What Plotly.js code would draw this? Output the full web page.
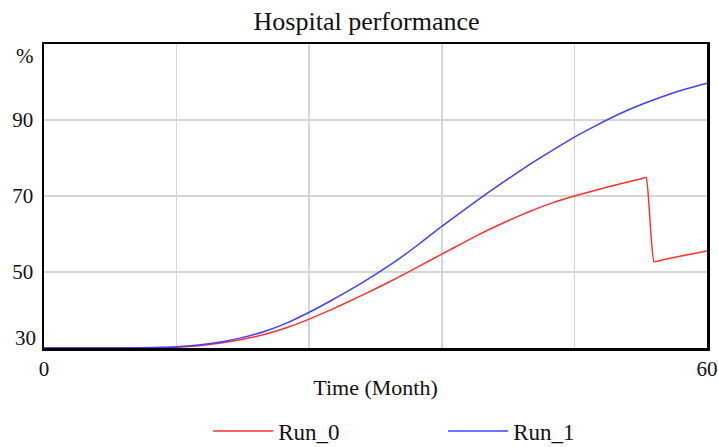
<!DOCTYPE html>
<html>
<head>
<meta charset="utf-8">
<script src="https://cdn.plot.ly/plotly-3.0.1.min.js"></script>
<style>html,body{margin:0;padding:0;background:#fff;}</style>
</head>
<body>
<div id="chart" style="width:718px;height:447px;"></div>
<script>
const timeRun1 = [0,2,4,6,8,10,12,14,16,18,20,22,24,26,28,30,32,34,36,38,40,42,44,46,48,50,52,54,56,58,60];
const run1 = [30,30,30,30,30.05,30.1,30.3,30.8,31.6,32.8,34.4,36.6,39.4,42.5,45.8,49.4,53.2,57.5,62,66.3,70.5,74.5,78.4,82,85.5,88.6,91.5,94,96.2,98.1,99.7];
const timeRun0 = [0,2,4,6,8,10,12,14,16,18,20,22,24,26,28,30,32,34,36,38,40,42,44,46,48,50,52,54,54.5,55.2,56,58,60];
const run0 = [30,30,30,30,30.03,30.08,30.2,30.6,31.3,32.3,33.6,35.4,37.6,40.1,42.8,45.6,48.5,51.6,54.7,57.8,60.8,63.5,66,68.2,70,71.6,73.1,74.5,74.9,52.7,53.2,54.4,55.5];
const xTickVals = [0,12,24,36,48,60];
const xTickText = ['0','','','','','60'];
const yTickVals = [50,70,90];
const yTickText = ['50','70','90'];

const font = '"Liberation Serif", "Times New Roman", serif';
const ink = '#111';
const data = [
  {x: timeRun0, y: run0, name: 'Run_0', mode: 'lines', line: {color: '#ff3030', width: 1.5, shape: 'spline', smoothing: 0.35}},
  {x: timeRun1, y: run1, name: 'Run_1', mode: 'lines', line: {color: '#4040ff', width: 1.5, shape: 'spline', smoothing: 0.8}}
];
const layout = {
  width: 718, height: 447,
  margin: {l: 44, r: 11, t: 44, b: 99, autoexpand: false},
  paper_bgcolor: '#fff', plot_bgcolor: '#fff',
  font: {family: font, size: 21, color: ink},
  title: {text: 'Hospital performance', x: 0.5105, xanchor: 'center', y: 0.953, yanchor: 'middle', font: {family: font, size: 26, color: ink}},
  xaxis: {
    range: [0, 60], tickvals: xTickVals, ticktext: xTickText,
    showgrid: true, gridcolor: '#d6d6d6', gridwidth: 1.5,
    showline: true, linecolor: '#000', linewidth: 2.5, mirror: true,
    ticks: '', zeroline: false, ticklabelstandoff: 0,
    tickfont: {family: font, size: 21, color: ink},
    title: {text: 'Time (Month)', standoff: 0, font: {family: font, size: 22, color: ink}}
  },
  yaxis: {
    range: [30, 110], tickvals: yTickVals, ticktext: yTickText,
    showgrid: true, gridcolor: '#d6d6d6', gridwidth: 1.5,
    showline: true, linecolor: '#000', linewidth: 2.5, mirror: true,
    ticks: '', zeroline: false, ticklabelstandoff: 4,
    tickfont: {family: font, size: 21, color: ink}
  },
  annotations: [
    {text: '%', xref: 'paper', yref: 'paper', x: 0, y: 1, xanchor: 'right', yanchor: 'top', xshift: -8, yshift: 2, showarrow: false, font: {family: font, size: 21, color: ink}},
    {text: '30', xref: 'paper', yref: 'y', x: 0, y: 30, xanchor: 'right', yanchor: 'bottom', xshift: -6, yshift: -4, showarrow: false, font: {family: font, size: 21, color: ink}}
  ],
  legend: {
    orientation: 'h', x: 0.602, xanchor: 'center', y: -0.273, yanchor: 'middle',
    font: {family: font, size: 23, color: ink},
    itemwidth: 60,
    entrywidth: 160, entrywidthmode: 'pixels'
  },
  showlegend: true
};
Plotly.newPlot('chart', data, layout, {displayModeBar: false, staticPlot: true});
</script>
</body>
</html>
